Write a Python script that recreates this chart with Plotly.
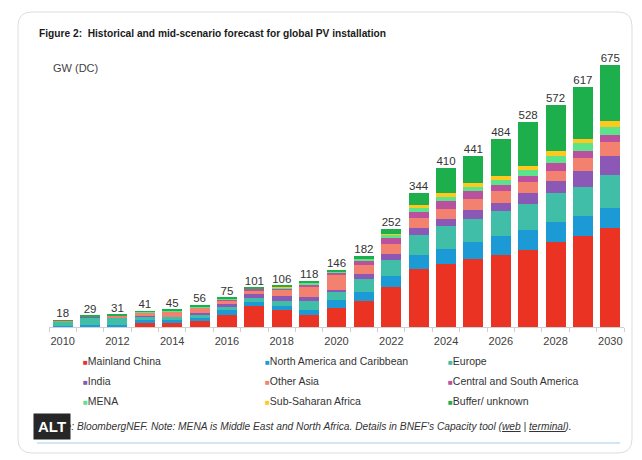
import plotly.graph_objects as go

# ---------------- data ----------------
years = list(range(2010, 2031))
series_names = ["Mainland China", "North America and Caribbean", "Europe",
                "India", "Other Asia", "Central and South America",
                "MENA", "Sub-Saharan Africa", "Buffer/ unknown"]
mainland_china = [1, 2, 2, 11, 11, 16, 30, 53, 44, 31, 50, 67, 104, 150, 163, 175, 185, 199, 218, 234, 255]
north_america = [1, 2, 3, 6, 7, 8, 15, 12, 11, 13, 19, 24, 27, 36, 39, 45, 49, 50, 52, 51, 52]
europe = [13, 21, 19, 11, 8, 9, 8, 9, 11, 22, 23, 33, 42, 52, 57, 57, 65, 67, 74, 76, 85]
india = [0, 1, 1, 1, 1, 2, 5, 10, 13, 12, 4, 12, 16, 16, 19, 23, 21, 30, 32, 40, 48]
other_asia = [2, 2, 4, 9, 13, 14, 11, 11, 17, 26, 38, 23, 24, 26, 26, 29, 29, 28, 26, 33, 36]
central_south_america = [0, 0, 0, 0, 1, 2, 2, 3, 4, 5, 5, 11, 17, 15, 20, 20, 17, 15, 20, 19, 17]
mena = [0, 0, 1, 1, 1, 2, 2, 1, 2, 5, 3, 6, 7, 10, 11, 12, 13, 15, 19, 20, 23]
sub_saharan_africa = [0, 0, 0, 1, 1, 1, 1, 0, 1, 0, 1, 1, 3, 8, 9, 9, 10, 11, 13, 12, 13]
buffer_unknown = [1, 1, 1, 1, 2, 2, 1, 2, 3, 4, 3, 5, 12, 31, 66, 71, 95, 113, 118, 132, 146]
tick_years = list(range(2010, 2031, 2))

series_values = [mainland_china, north_america, europe, india, other_asia,
                 central_south_america, mena, sub_saharan_africa, buffer_unknown]
totals = [sum(v) for v in zip(*series_values)]

# ---------------- style ----------------
colors = ["#EB3323", "#1B9AD6", "#41BEA8", "#8B58B5", "#F2826F",
          "#B9519F", "#5DE38A", "#FFC81E", "#1DAF4B"]
FONT = "Liberation Sans, Arial, sans-serif"
OFF = 8                      # page body margin
W, H = 642 - OFF, 460 - OFF
# plot area in page pixels
PL, PR, PT, PB = 49, 624, 55, 327
L, R, T, B = PL - OFF, PR - OFF, PT - OFF, PB - OFF
Y_TOP = 700


def px_x(px):
    return (px - PL) / (PR - PL)


def px_y(py):
    return (PB - py) / (PB - PT)


def rrect(x0, y0, x1, y1, r):
    pts = [("M", x0 + r, y0), ("L", x1 - r, y0), ("Q", x1, y0, x1, y0 + r),
           ("L", x1, y1 - r), ("Q", x1, y1, x1 - r, y1), ("L", x0 + r, y1),
           ("Q", x0, y1, x0, y1 - r), ("L", x0, y0 + r), ("Q", x0, y0, x0 + r, y0)]
    s = ""
    for p in pts:
        coords = p[1:]
        parts = [f"{px_x(coords[i]):.5f},{px_y(coords[i + 1]):.5f}" for i in range(0, len(coords), 2)]
        s += p[0] + " " + " ".join(parts) + " "
    return s + "Z"


fig = go.Figure()
for name, vals, col in zip(series_names, series_values, colors):
    fig.add_trace(go.Bar(x=years, y=vals, name=name, marker=dict(color=col, line=dict(width=0)),
                         showlegend=False, hoverinfo="x+y+name"))

fig.add_trace(go.Scatter(x=years, y=totals, mode="text", text=[str(t) for t in totals],
                         textposition="top center", cliponaxis=False, showlegend=False,
                         textfont=dict(family=FONT, size=11.5, color="#333333"),
                         hoverinfo="skip"))

shapes = [
    dict(type="path", xref="paper", yref="paper", path=rrect(18, 12, 632, 453, 14),
         line=dict(color="#D9DEE4", width=1), fillcolor="rgba(0,0,0,0)", layer="below"),
    dict(type="line", xref="paper", yref="paper", x0=px_x(37), x1=px_x(620),
         y0=px_y(443), y1=px_y(443), line=dict(color="#D3E6F4", width=2)),
]

annotations = [
    dict(text="<b>Figure 2:  Historical and mid-scenario forecast for global PV installation</b>",
         x=px_x(37), y=px_y(33), xref="paper", yref="paper", xanchor="left", yanchor="middle",
         showarrow=False, font=dict(family=FONT, size=10.2, color="#1a1a1a")),
    dict(text="GW (DC)", x=px_x(51), y=px_y(68), xref="paper", yref="paper",
         xanchor="left", yanchor="middle", showarrow=False,
         font=dict(family=FONT, size=11, color="#444444")),
    dict(text="<i>Source: BloombergNEF. Note: MENA is Middle East and North Africa. Details in BNEF's Capacity tool (<u>web</u> | <u>terminal</u>).</i>",
         x=px_x(37), y=px_y(426), xref="paper", yref="paper", xanchor="left", yanchor="middle",
         showarrow=False, font=dict(family=FONT, size=10.2, color="#333333")),
]

col_x = [81, 263, 446]
row_y = [361, 381, 401]
for i, (name, col) in enumerate(zip(series_names, colors)):
    r, c = divmod(i, 3)
    annotations.append(dict(
        text=f"<span style='color:{col};font-size:8px'>■</span>{name}",
        x=px_x(col_x[c]), y=px_y(row_y[r]), xref="paper", yref="paper",
        xanchor="left", yanchor="middle", showarrow=False,
        font=dict(family=FONT, size=10.5, color="#333333")))

annotations.append(dict(
    text="<b>ALT</b>", x=px_x(51.5), y=px_y(426.5), xref="paper", yref="paper",
    xanchor="center", yanchor="middle", showarrow=False, bgcolor="#262626",
    borderpad=4, font=dict(family=FONT, size=15, color="white")))

fig.update_layout(
    width=W, height=H,
    margin=dict(l=L, r=W - R, t=T, b=H - B, pad=0),
    paper_bgcolor="white", plot_bgcolor="white",
    barmode="stack", bargap=0.27,
    showlegend=False,
    xaxis=dict(range=[2009.5, 2030.5], tickvals=tick_years, ticktext=[str(y) for y in tick_years],
               showline=True, linecolor="#D0D0D0", linewidth=1, showgrid=False, zeroline=False,
               ticks="outside", ticklen=4, tickcolor="rgba(0,0,0,0)",
               minor=dict(tickvals=[y - 0.5 for y in years] + [2030.5], ticks="outside",
                          ticklen=4, tickcolor="#D0D0D0", showgrid=False),
               tickfont=dict(family=FONT, size=11, color="#404040")),
    yaxis=dict(range=[0, Y_TOP], visible=False, showgrid=False, zeroline=False),
    shapes=shapes, annotations=annotations,
    font=dict(family=FONT),
)

fig.write_html("out.html")
